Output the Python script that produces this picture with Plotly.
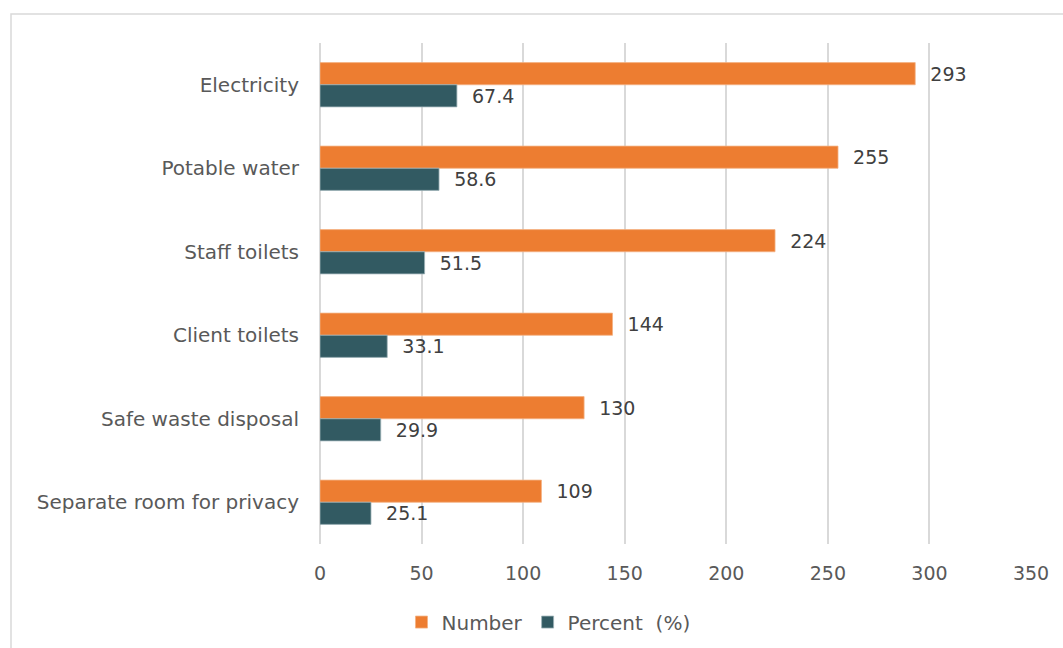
import plotly.graph_objects as go

categories = ["Electricity", "Potable water", "Staff toilets", "Client toilets",
              "Safe waste disposal", "Separate room for privacy"]
number_values = [293, 255, 224, 144, 130, 109]
percent_values = [67.4, 58.6, 51.5, 33.1, 29.9, 25.1]
x_ticks = [0, 50, 100, 150, 200, 250, 300, 350]

ORANGE = "#ED7D31"
TEAL = "#325A62"
TEXT = "#595959"
GRID = "#D9D9D9"
FONT = "DejaVu Sans"
PAD = "\u00a0" * 2

fig = go.Figure()
fig.add_trace(go.Bar(
    y=categories, x=number_values, orientation="h", name="Number",
    marker=dict(color=ORANGE, line=dict(color="#F4B183", width=0.8)),
    text=[PAD + f"{v:g}" for v in number_values], textposition="outside",
    textfont=dict(family=FONT, size=19, color="#404040"), cliponaxis=False,
))
fig.add_trace(go.Bar(
    y=categories, x=percent_values, orientation="h", name="Percent  (%)",
    marker=dict(color=TEAL, line=dict(color="#9DB3B8", width=0.8)),
    text=[PAD + f"{v:.1f}" for v in percent_values], textposition="outside",
    textfont=dict(family=FONT, size=19, color="#404040"), cliponaxis=False,
))

fig.update_layout(
    width=1063, height=648,
    margin=dict(l=320, r=32, t=43, b=104, autoexpand=False),
    barmode="group", bargap=0.47, bargroupgap=0,
    paper_bgcolor="white", plot_bgcolor="white",
    font=dict(family=FONT, size=20, color=TEXT),
    legend=dict(orientation="h", xref="container", yref="container",
                x=0.3777, y=0.04, xanchor="left", yanchor="middle",
                font=dict(family=FONT, size=20, color=TEXT), traceorder="normal"),
    shapes=[dict(type="rect", xref="paper", yref="paper",
                 x0=-0.4346, x1=1.2, y0=-0.3, y1=1.0579,
                 line=dict(color=GRID, width=1.5), fillcolor="rgba(0,0,0,0)", layer="below")],
)
fig.update_xaxes(range=[0, 350], tickvals=x_ticks, showgrid=True, gridcolor=GRID, gridwidth=1.5,
                 zeroline=True, zerolinecolor=GRID, zerolinewidth=1.5, showline=False,
                 ticks="", ticklabelstandoff=16, tickfont=dict(family=FONT, size=19, color=TEXT))
fig.update_yaxes(autorange="reversed", showgrid=False, showline=False, ticks="",
                 ticklabelstandoff=20, tickfont=dict(family=FONT, size=20, color=TEXT))

fig.write_html("out.html")
